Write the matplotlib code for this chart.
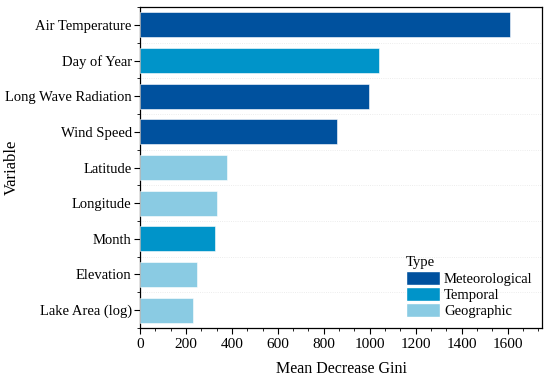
import numpy as np
import matplotlib.pyplot as plt
from matplotlib.patches import Patch
from matplotlib.ticker import MultipleLocator, AutoMinorLocator

plt.rcParams['font.family'] = ['Liberation Serif', 'DejaVu Serif']

# Data
variables = ["Air Temperature", "Day of Year", "Long Wave Radiation", "Wind Speed",
             "Latitude", "Longitude", "Month", "Elevation", "Lake Area (log)"]
gini = [1610, 1040, 997, 858, 380, 336, 327, 250, 232]
types = ["Meteorological", "Temporal", "Meteorological", "Meteorological",
         "Geographic", "Geographic", "Temporal", "Geographic", "Geographic"]

type_order = ["Meteorological", "Temporal", "Geographic"]
palette = {"Meteorological": "#00519E", "Temporal": "#0094C9", "Geographic": "#8ACBE3"}

fig = plt.figure(figsize=(5.5, 3.76), dpi=100)
ax = fig.add_axes([0.2545, 0.128, 0.731, 0.853])

y = np.arange(len(variables))
ax.barh(y, gini, height=0.7, color=[palette[t] for t in types],
        edgecolor='white', linewidth=0.4, zorder=3)

ax.set_ylim(len(variables) - 0.5, -0.5)
ax.set_xlim(0, 1750)
ax.set_yticks(y)
ax.set_yticklabels(variables, fontsize=10.5)
ax.xaxis.set_major_locator(MultipleLocator(200))
ax.xaxis.set_minor_locator(AutoMinorLocator(3))
ax.set_yticks(np.arange(-0.5, len(variables), 1), minor=True)
ax.tick_params(axis='x', labelsize=11)
ax.tick_params(axis='y', pad=2)
ax.tick_params(which='major', length=4, width=0.8, direction='out')
ax.tick_params(which='minor', length=2, width=0.6, direction='out')
ax.grid(axis='y', which='minor', color='#e6e6e6', linestyle=':', linewidth=0.6, zorder=0)

ax.set_xlabel("Mean Decrease Gini", fontsize=11.5, labelpad=7)
ax.set_ylabel("Variable", fontsize=12)
ax.yaxis.set_label_coords(-0.30, 0.5)

for s in ax.spines.values():
    s.set_linewidth(0.9)

handles = [Patch(facecolor=palette[t], edgecolor='white', label=t) for t in type_order]
leg = ax.legend(handles=handles, title="Type", loc='lower right', frameon=False,
                fontsize=10.5, title_fontsize=10.5, handlelength=2.3, handleheight=1.1,
                labelspacing=0.1, handletextpad=0.3, borderaxespad=0.25,
                alignment='left')

fig.savefig("out.png", dpi=100)
